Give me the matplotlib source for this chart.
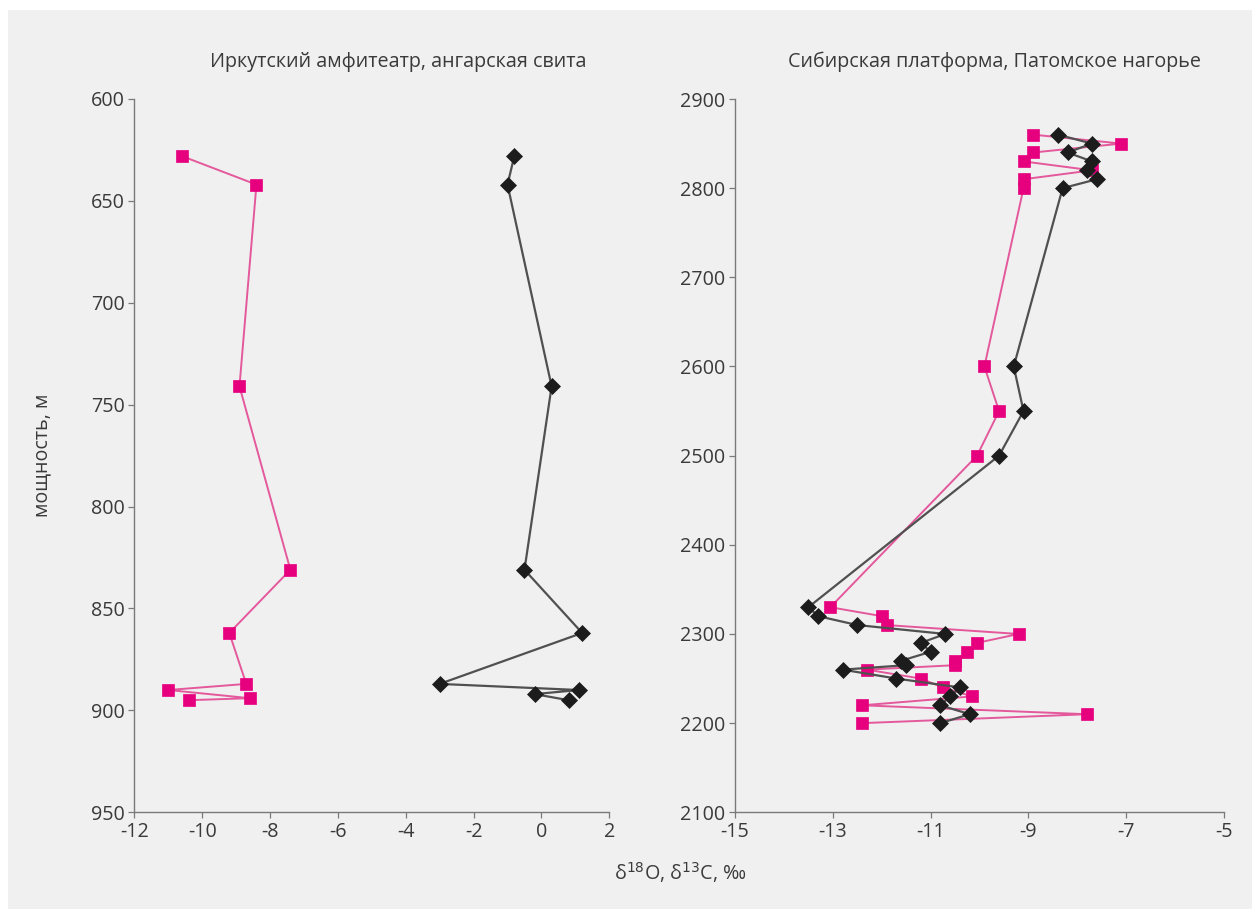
import matplotlib
matplotlib.use("Agg")
import matplotlib.pyplot as plt
from matplotlib.patches import Rectangle

plt.rcParams['font.family'] = ['Open Sans', 'DejaVu Sans']
plt.rcParams['axes.unicode_minus'] = False

# Иркутский амфитеатр, ангарская свита
irk_o18_depth = [628, 642, 741, 831, 862, 887, 890, 894, 895]
irk_o18 = [-10.6, -8.4, -8.9, -7.4, -9.2, -8.7, -11.0, -8.6, -10.4]
irk_c13_depth = [628, 642, 741, 831, 862, 887, 890, 892, 895]
irk_c13 = [-0.8, -1.0, 0.3, -0.5, 1.2, -3.0, 1.1, -0.2, 0.8]

# Сибирская платформа, Патомское нагорье
pat_depth = [2860, 2850, 2840, 2830, 2820, 2810, 2800, 2600, 2550, 2500,
             2330, 2320, 2310, 2300, 2290, 2280, 2270, 2265, 2260, 2250,
             2240, 2230, 2220, 2210, 2200]
pat_o18 = [-8.9, -7.1, -8.9, -9.1, -7.7, -9.1, -9.1, -9.9, -9.6, -10.05,
           -13.05, -12.0, -11.9, -9.2, -10.05, -10.25, -10.5, -10.5, -12.3, -11.2,
           -10.75, -10.15, -12.4, -7.8, -12.4]
pat_c13 = [-8.4, -7.7, -8.2, -7.7, -7.8, -7.6, -8.3, -9.3, -9.1, -9.6,
           -13.5, -13.3, -12.5, -10.7, -11.2, -11.0, -11.6, -11.5, -12.8, -11.7,
           -10.4, -10.6, -10.8, -10.2, -10.8]

left_xticks = [-12, -10, -8, -6, -4, -2, 0, 2]
left_yticks = [600, 650, 700, 750, 800, 850, 900, 950]
right_xticks = [-15, -13, -11, -9, -7, -5]
right_yticks = [2100, 2200, 2300, 2400, 2500, 2600, 2700, 2800, 2900]

PINK = '#e6007e'
PINK_LINE = '#e4589c'
DARK = '#1c1c1c'
DARK_LINE = '#505050'
BG = '#f0f0f0'
SPINE = '#7a7a7a'
TEXT = '#3a3a3a'
FS = 14.2

W, H = 1252, 909
fig = plt.figure(figsize=(W / 100, H / 100), dpi=100, facecolor='white')
fig.patches.append(Rectangle((8 / W, 0), 1 - 8 / W, 1 - 10 / H,
                             transform=fig.transFigure, facecolor=BG,
                             edgecolor='none', zorder=-5))


def frac_box(x0, x1, ytop, ybot):
    return [x0 / W, 1 - ybot / H, (x1 - x0) / W, (ybot - ytop) / H]


ax1 = fig.add_axes(frac_box(134.3, 609.3, 99, 812.3), zorder=2)
ax2 = fig.add_axes(frac_box(735, 1224, 99, 812.3), zorder=2)


def style(ax, xt, yt):
    ax.set_facecolor('none')
    for s in ('top', 'right'):
        ax.spines[s].set_visible(False)
    for s in ('left', 'bottom'):
        ax.spines[s].set_color(SPINE)
        ax.spines[s].set_linewidth(1.0)
    ax.set_xticks(xt)
    ax.set_yticks(yt)
    ax.tick_params(direction='out', length=4, width=0.9, color=SPINE,
                   labelsize=FS, labelcolor=TEXT, pad=3)


def series(ax, x, y, marker, mcolor, lcolor, ms, lw):
    ax.plot(x, y, color=lcolor, lw=lw, marker=marker, ms=ms,
            markerfacecolor=mcolor, markeredgecolor=mcolor, mew=0.5,
            clip_on=False)


series(ax1, irk_o18, irk_o18_depth, 's', PINK, PINK_LINE, 8.2, 1.4)
series(ax1, irk_c13, irk_c13_depth, 'D', DARK, DARK_LINE, 8.2, 1.6)
ax1.set_xlim(-12, 2)
ax1.set_ylim(950, 600)
style(ax1, left_xticks, left_yticks)

series(ax2, pat_o18, pat_depth, 's', PINK, PINK_LINE, 8.2, 1.4)
series(ax2, pat_c13, pat_depth, 'D', DARK, DARK_LINE, 8.2, 1.6)
ax2.set_xlim(-15, -5)
ax2.set_ylim(2100, 2900)
style(ax2, right_xticks, right_yticks)

fig.text(398 / W, 1 - 62 / H, 'Иркутский амфитеатр, ангарская свита',
         ha='center', va='center', fontsize=FS, color=TEXT)
fig.text(995 / W, 1 - 62 / H, 'Сибирская платформа, Патомское нагорье',
         ha='center', va='center', fontsize=FS, color=TEXT)
fig.text(42 / W, 1 - 455 / H, 'мощность, м', rotation=90,
         ha='center', va='center', fontsize=FS, color=TEXT)
fig.text(680 / W, 1 - 873 / H, 'δ$^{18}$O, δ$^{13}$C, ‰',
         ha='center', va='center', fontsize=FS, color=TEXT)

fig.savefig('out.png', dpi=100, facecolor='white')
